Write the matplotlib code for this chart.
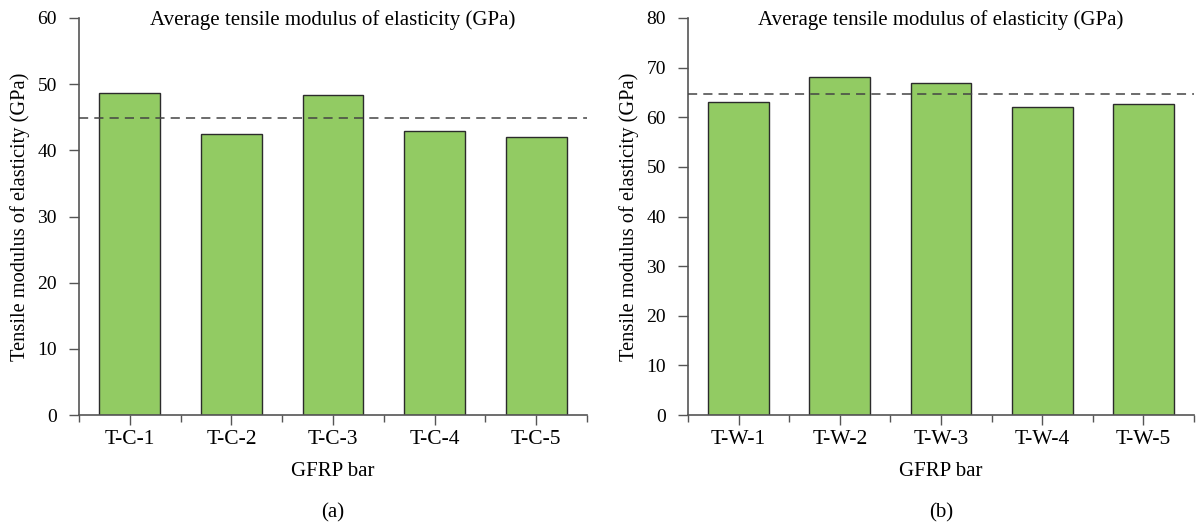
import matplotlib.pyplot as plt
import numpy as np

plt.rcParams['font.family'] = ['Liberation Serif', 'DejaVu Serif']

labels_a = ["T-C-1", "T-C-2", "T-C-3", "T-C-4", "T-C-5"]
values_a = [48.7, 42.4, 48.3, 42.9, 42.0]
mean_a = 44.9

labels_b = ["T-W-1", "T-W-2", "T-W-3", "T-W-4", "T-W-5"]
values_b = [63.0, 68.1, 67.0, 62.1, 62.6]
mean_b = 64.6

BAR_COLOR = "#92cb63"
EDGE = "#2b2b2b"
SPINE = "#555555"

fig = plt.figure(figsize=(11.96, 5.28), dpi=100)
ax_a = fig.add_axes([79 / 1196, 1 - 415 / 528, 508 / 1196, 397 / 528])
ax_b = fig.add_axes([688 / 1196, 1 - 415 / 528, 506 / 1196, 397 / 528])


def draw(ax, labels, values, mean, ymax, tag):
    x = np.arange(1, len(labels) + 1)
    ax.bar(x, values, width=0.6, color=BAR_COLOR, edgecolor=EDGE, linewidth=1.0, zorder=2)
    ax.axhline(mean, color="#444444", linestyle=(0, (6, 4)), linewidth=1.1, zorder=3)
    ax.set_xlim(0.5, len(labels) + 0.5)
    ax.set_ylim(0, ymax)
    ax.set_yticks(np.arange(0, ymax + 1, 10))
    ax.set_xticks(x)
    ax.set_xticklabels(labels)
    ax.set_xticks(np.arange(0.5, len(labels) + 1, 1.0), minor=True)
    ax.tick_params(axis="both", which="major", direction="out", length=7, width=1.0,
                   color=SPINE, labelsize=14)
    ax.tick_params(axis="y", pad=9)
    ax.tick_params(axis="x", which="minor", direction="out", length=5, width=1.0, color=SPINE)
    ax.tick_params(axis="x", which="major", pad=4, labelsize=15.5)
    for s in ("top", "right"):
        ax.spines[s].set_visible(False)
    for s in ("left", "bottom"):
        ax.spines[s].set_color(SPINE)
        ax.spines[s].set_linewidth(1.2)
    ax.set_ylabel("Tensile modulus of elasticity (GPa)", fontsize=14.7, labelpad=5)
    ax.set_xlabel("GFRP bar", fontsize=15, labelpad=9)
    ax.set_title("Average tensile modulus of elasticity (GPa)", fontsize=15, y=0.962)
    ax.text(0.5, -0.247, tag, transform=ax.transAxes, ha="center", va="center", fontsize=15)


draw(ax_a, labels_a, values_a, mean_a, 60, "(a)")
draw(ax_b, labels_b, values_b, mean_b, 80, "(b)")

fig.savefig("out.png", dpi=100)
